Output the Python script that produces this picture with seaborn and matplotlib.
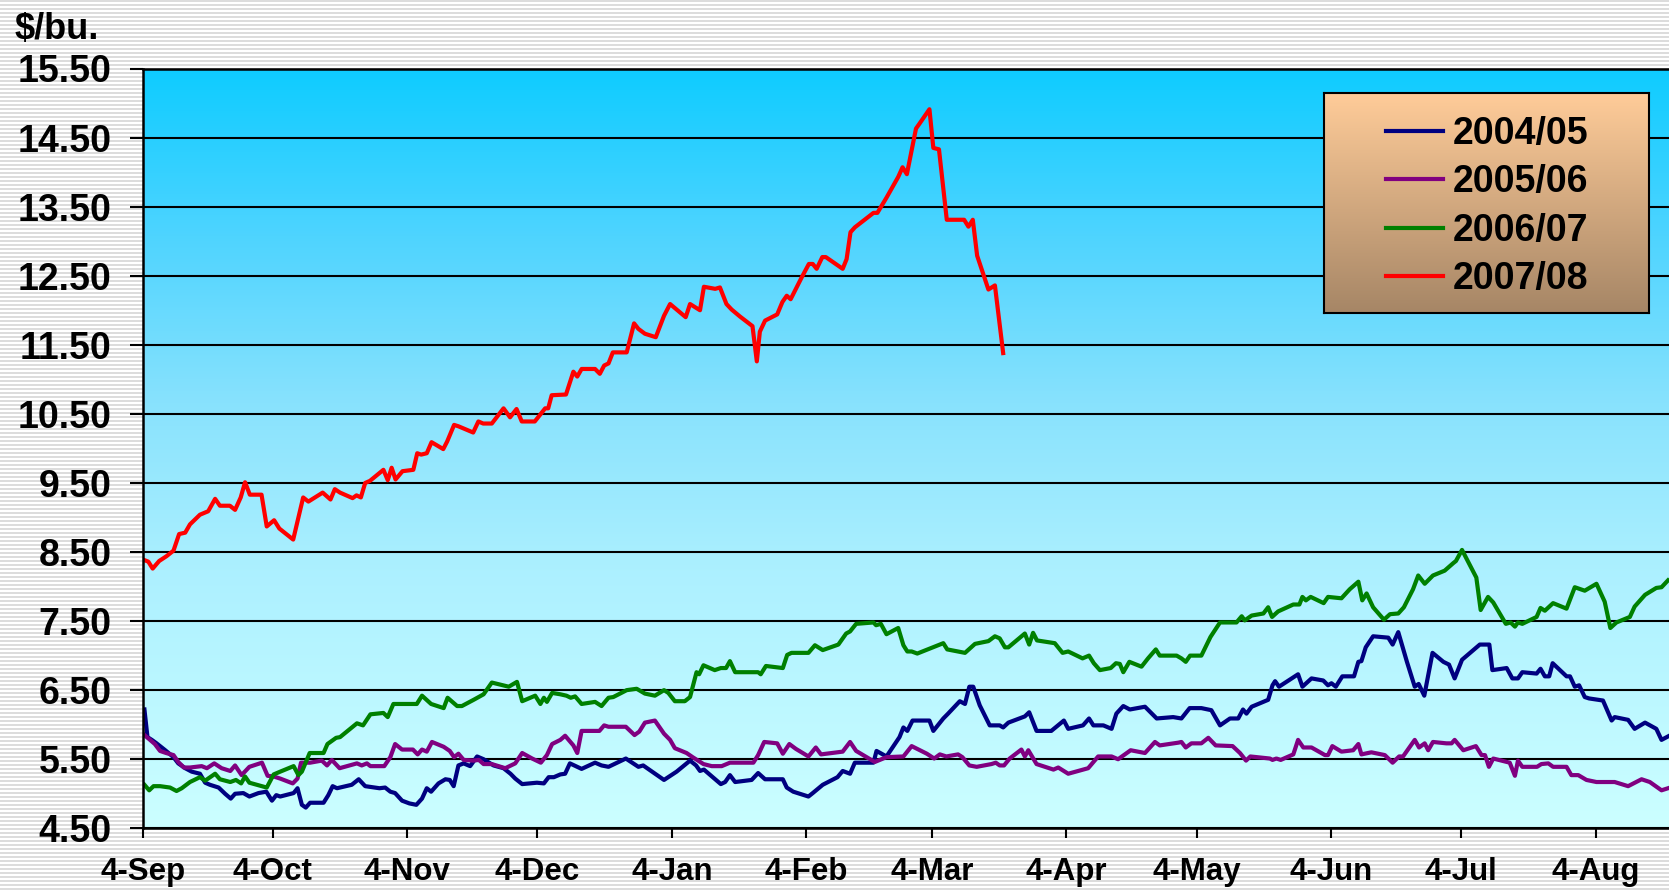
import numpy as np
import pandas as pd
import matplotlib
matplotlib.use('Agg')
import matplotlib.pyplot as plt
import matplotlib.ticker as mticker
import seaborn as sns

# x = days after 4-Sep on a common season calendar, y = $/bu.
y0405_day = [0.4, 1.1, 2.1, 3.2, 5.2, 7.1, 8.2, 9.8, 11.3, 13.2, 14.4, 15.5, 17.5, 19.0, 20.3, 21.3, 23.2, 24.6,
             26.7, 28.5, 29.8, 30.8, 31.7, 34.8, 35.7, 36.7, 37.6, 38.6, 41.7, 42.8, 43.8, 44.8, 48.2, 49.8, 51.3,
             54.6, 55.9, 57.1, 58.2, 59.8, 61.5, 63.1, 64.4, 65.5, 66.5, 68.2, 69.8, 70.8, 71.7, 72.8, 74.0, 75.5,
             77.1, 78.6, 80.9, 83.2, 84.8, 85.9, 87.5, 90.9, 92.5, 93.6, 94.8, 96.3, 97.4, 98.5, 101.2, 104.3, 105.8,
             107.4, 111.4, 114.3, 115.4, 120.2, 123.1, 126.2, 127.6, 128.5, 129.4, 133.3, 134.3, 135.4, 136.6, 140.4,
             141.9, 143.5, 147.6, 148.5, 150.0, 153.5, 154.5, 156.8, 160.2, 161.4, 163.1, 164.2, 168.5, 169.2, 171.5,
             174.5, 175.4, 176.3, 177.5, 181.4, 182.3, 184.6, 185.7, 188.4, 189.6, 190.6, 191.5, 193.0, 195.3, 197.6,
             198.4, 199.6, 203.4, 204.4, 206.1, 209.5, 212.4, 213.4, 216.8, 218.2, 219.2, 221.5, 223.4, 224.5, 226.1,
             227.6, 231.1, 233.8, 237.6, 239.5, 241.4, 244.1, 246.4, 248.4, 250.7, 252.6, 253.7, 254.5, 255.7, 259.5,
             260.5, 261.1, 262.0, 266.4, 267.4, 269.5, 272.2, 273.3, 274.1, 275.1, 276.6, 279.3, 280.3, 281.0, 282.0,
             283.7, 287.2, 288.2, 289.5, 291.5, 293.3, 294.2, 295.5, 297.4, 299.9, 301.2, 302.5, 304.2, 308.3, 310.5,
             311.2, 314.5, 315.8, 317.1, 318.1, 321.4, 322.3, 323.3, 324.3, 325.1, 328.3, 329.1, 330.2, 331.2, 332.5,
             333.5, 336.7, 338.7, 339.4, 342.5, 344.0, 346.4, 349.0, 350.2, 351.7]
y0405_price = [6.22, 5.82, 5.78, 5.73, 5.63, 5.53, 5.44, 5.37, 5.32, 5.29, 5.16, 5.13, 5.09, 5.00, 4.93, 5.00, 5.01,
               4.96, 5.01, 5.03, 4.90, 4.98, 4.96, 5.01, 5.08, 4.84, 4.80, 4.87, 4.87, 4.98, 5.11, 5.08, 5.13, 5.21,
               5.11, 5.08, 5.09, 5.03, 5.01, 4.90, 4.86, 4.84, 4.93, 5.08, 5.03, 5.15, 5.21, 5.20, 5.11, 5.41, 5.44,
               5.40, 5.54, 5.50, 5.41, 5.37, 5.29, 5.22, 5.14, 5.16, 5.15, 5.24, 5.24, 5.28, 5.29, 5.44, 5.36, 5.45,
               5.41, 5.39, 5.51, 5.39, 5.41, 5.20, 5.32, 5.48, 5.41, 5.33, 5.35, 5.14, 5.17, 5.27, 5.17, 5.20, 5.30,
               5.21, 5.21, 5.09, 5.03, 4.96, 5.01, 5.13, 5.24, 5.33, 5.29, 5.45, 5.45, 5.62, 5.54, 5.82, 5.96, 5.91,
               6.06, 6.06, 5.91, 6.09, 6.16, 6.34, 6.30, 6.55, 6.55, 6.28, 5.99, 5.99, 5.96, 6.03, 6.12, 6.18, 5.91,
               5.91, 6.06, 5.94, 5.99, 6.09, 5.99, 5.99, 5.94, 6.16, 6.27, 6.22, 6.26, 6.09, 6.11, 6.09, 6.24, 6.24,
               6.21, 5.99, 6.09, 6.09, 6.22, 6.16, 6.26, 6.36, 6.57, 6.63, 6.55, 6.73, 6.55, 6.67, 6.64, 6.57, 6.60,
               6.55, 6.70, 6.70, 6.91, 6.92, 7.12, 7.28, 7.26, 7.16, 7.34, 6.91, 6.55, 6.59, 6.42, 7.04, 6.91, 6.87,
               6.67, 6.94, 7.16, 7.16, 6.79, 6.82, 6.67, 6.67, 6.76, 6.74, 6.81, 6.70, 6.70, 6.89, 6.70, 6.70, 6.55,
               6.57, 6.40, 6.38, 6.35, 6.06, 6.11, 6.07, 5.94, 6.03, 5.94, 5.78, 5.83]

y0506_day = [0.4, 1.7, 2.8, 4.0, 5.4, 7.1, 8.2, 9.5, 10.9, 13.6, 14.8, 16.5, 18.2, 20.2, 21.3, 22.8, 24.6, 27.5,
             28.8, 30.2, 31.7, 34.6, 35.7, 36.5, 38.6, 41.3, 42.5, 43.6, 45.4, 49.4, 50.5, 51.7, 52.5, 55.7, 57.1,
             58.2, 59.8, 62.3, 63.4, 64.4, 65.5, 66.7, 69.4, 70.8, 71.8, 72.8, 74.0, 76.3, 77.5, 78.6, 80.5, 83.6,
             85.9, 87.5, 89.8, 91.8, 93.2, 94.4, 96.3, 97.4, 99.3, 100.2, 101.2, 105.3, 106.4, 107.4, 111.4, 113.4,
             114.5, 115.8, 118.1, 120.2, 121.6, 122.7, 125.4, 126.8, 129.3, 131.2, 133.5, 135.4, 140.8, 141.9, 143.3,
             146.3, 147.6, 149.1, 150.6, 153.5, 155.2, 156.4, 161.4, 163.1, 164.5, 168.8, 171.5, 175.4, 177.3, 179.2,
             180.8, 182.5, 183.8, 185.3, 188.0, 189.0, 190.6, 192.3, 195.7, 196.7, 197.6, 198.6, 199.9, 202.6, 203.4,
             204.2, 206.1, 210.0, 211.1, 213.4, 216.9, 218.0, 220.3, 223.4, 224.9, 227.8, 231.1, 233.4, 234.5, 238.8,
             239.5, 240.5, 241.8, 244.1, 245.7, 247.4, 251.3, 253.0, 254.4, 255.4, 259.9, 260.5, 261.4, 262.4, 265.3,
             266.4, 267.6, 269.5, 272.6, 273.3, 274.3, 276.4, 279.1, 280.3, 281.0, 283.3, 286.4, 288.2, 289.7, 290.6,
             293.3, 294.3, 295.6, 296.4, 297.5, 300.6, 301.8, 302.5, 304.5, 307.4, 308.7, 309.5, 310.4, 311.4, 315.2,
             316.4, 317.1, 318.1, 321.5, 322.5, 324.1, 325.2, 328.3, 329.4, 331.0, 332.9, 335.2, 339.4, 342.5, 345.6,
             347.5, 350.2, 351.7]
y0506_price = [5.85, 5.78, 5.72, 5.62, 5.59, 5.56, 5.46, 5.38, 5.38, 5.40, 5.37, 5.44, 5.37, 5.33, 5.41, 5.27, 5.39,
               5.45, 5.26, 5.25, 5.22, 5.15, 5.22, 5.45, 5.45, 5.48, 5.41, 5.49, 5.37, 5.44, 5.41, 5.44, 5.40, 5.40,
               5.53, 5.72, 5.64, 5.64, 5.57, 5.64, 5.61, 5.75, 5.68, 5.62, 5.53, 5.58, 5.49, 5.48, 5.49, 5.43, 5.43,
               5.37, 5.44, 5.59, 5.51, 5.45, 5.56, 5.72, 5.78, 5.84, 5.70, 5.59, 5.91, 5.91, 5.99, 5.97, 5.97, 5.85,
               5.90, 6.03, 6.06, 5.87, 5.78, 5.66, 5.59, 5.53, 5.43, 5.40, 5.40, 5.45, 5.45, 5.56, 5.75, 5.73, 5.58,
               5.72, 5.65, 5.54, 5.67, 5.57, 5.61, 5.75, 5.62, 5.46, 5.53, 5.54, 5.69, 5.63, 5.58, 5.51, 5.57, 5.54,
               5.57, 5.53, 5.41, 5.39, 5.43, 5.45, 5.41, 5.41, 5.51, 5.64, 5.54, 5.63, 5.43, 5.35, 5.38, 5.29, 5.35,
               5.37, 5.54, 5.54, 5.50, 5.63, 5.59, 5.75, 5.70, 5.74, 5.75, 5.67, 5.73, 5.73, 5.81, 5.70, 5.69, 5.59,
               5.48, 5.54, 5.51, 5.49, 5.51, 5.49, 5.57, 5.78, 5.67, 5.67, 5.56, 5.56, 5.69, 5.61, 5.63, 5.72, 5.57,
               5.60, 5.56, 5.45, 5.54, 5.54, 5.78, 5.67, 5.73, 5.63, 5.75, 5.73, 5.73, 5.78, 5.63, 5.69, 5.56, 5.56,
               5.39, 5.51, 5.45, 5.26, 5.48, 5.39, 5.39, 5.43, 5.44, 5.39, 5.39, 5.27, 5.27, 5.20, 5.17, 5.17, 5.11,
               5.21, 5.17, 5.05, 5.08]

y0607_day = [0.4, 1.5, 2.5, 4.0, 6.3, 7.8, 9.0, 10.9, 13.2, 14.4, 16.7, 17.8, 20.2, 21.5, 22.7, 23.6, 24.6, 28.6,
             30.2, 31.7, 34.8, 35.9, 36.7, 38.5, 41.7, 42.6, 44.6, 45.5, 49.4, 50.8, 52.5, 55.5, 56.5, 57.8, 63.2,
             64.4, 66.5, 69.4, 70.3, 72.5, 73.6, 76.3, 78.6, 80.5, 84.4, 86.3, 87.5, 90.5, 91.7, 92.5, 93.2, 94.4,
             96.3, 97.7, 98.7, 99.7, 101.2, 104.3, 105.8, 107.4, 108.5, 111.6, 113.9, 115.8, 118.1, 120.2, 121.2,
             122.7, 125.0, 126.2, 127.7, 128.3, 129.3, 131.9, 133.3, 134.5, 135.4, 136.6, 141.9, 142.5, 143.7, 147.6,
             148.6, 149.6, 153.5, 155.0, 156.8, 160.4, 162.2, 163.1, 164.5, 168.5, 169.1, 170.2, 171.5, 174.2, 175.4,
             176.3, 177.3, 178.6, 184.6, 185.5, 189.6, 191.9, 195.0, 196.5, 197.6, 198.8, 199.6, 203.4, 204.4, 205.3,
             206.2, 210.3, 212.1, 213.4, 216.7, 218.2, 219.3, 220.7, 223.2, 224.4, 225.3, 226.1, 227.5, 230.3, 231.8,
             233.6, 234.5, 238.4, 239.5, 240.5, 241.5, 244.1, 246.2, 248.4, 252.2, 253.4, 254.1, 255.7, 258.4, 259.5,
             260.4, 261.8, 265.3, 266.7, 267.4, 268.2, 269.3, 272.3, 273.3, 276.4, 278.3, 280.3, 281.2, 282.2, 283.7,
             286.2, 287.6, 289.5, 290.8, 292.9, 294.1, 295.6, 297.5, 300.2, 302.2, 302.8, 304.2, 307.5, 308.5, 310.2,
             311.4, 314.3, 315.4, 316.4, 317.1, 318.1, 321.4, 322.3, 323.3, 325.2, 328.3, 330.2, 332.5, 335.2, 337.1,
             338.4, 339.8, 342.9, 344.0, 346.4, 349.0, 350.2, 351.7]
y0607_price = [5.13, 5.05, 5.11, 5.11, 5.09, 5.04, 5.08, 5.17, 5.24, 5.19, 5.29, 5.21, 5.17, 5.20, 5.15, 5.25, 5.16,
               5.09, 5.28, 5.32, 5.40, 5.27, 5.32, 5.59, 5.59, 5.72, 5.81, 5.82, 6.02, 5.99, 6.15, 6.17, 6.11, 6.30,
               6.30, 6.42, 6.30, 6.24, 6.39, 6.27, 6.27, 6.36, 6.44, 6.61, 6.55, 6.62, 6.34, 6.42, 6.30, 6.39, 6.33,
               6.46, 6.44, 6.42, 6.39, 6.41, 6.30, 6.33, 6.27, 6.39, 6.40, 6.50, 6.52, 6.45, 6.42, 6.50, 6.46, 6.34,
               6.34, 6.40, 6.76, 6.73, 6.86, 6.79, 6.82, 6.82, 6.92, 6.76, 6.76, 6.73, 6.85, 6.82, 7.01, 7.04, 7.04,
               7.15, 7.08, 7.16, 7.32, 7.35, 7.46, 7.48, 7.44, 7.46, 7.31, 7.40, 7.15, 7.06, 7.06, 7.03, 7.18, 7.09,
               7.04, 7.17, 7.21, 7.28, 7.25, 7.12, 7.12, 7.32, 7.16, 7.33, 7.22, 7.18, 7.04, 7.06, 6.96, 7.00, 6.89,
               6.79, 6.82, 6.89, 6.88, 6.76, 6.91, 6.84, 6.96, 7.09, 7.00, 7.00, 6.96, 6.91, 7.00, 7.00, 7.27, 7.48,
               7.48, 7.57, 7.51, 7.58, 7.61, 7.70, 7.56, 7.64, 7.74, 7.74, 7.85, 7.80, 7.85, 7.76, 7.85, 7.83, 7.96,
               8.07, 7.80, 7.90, 7.70, 7.52, 7.60, 7.61, 7.70, 7.96, 8.16, 8.04, 8.16, 8.23, 8.34, 8.37, 8.53, 8.13,
               7.66, 7.85, 7.77, 7.46, 7.48, 7.42, 7.48, 7.46, 7.56, 7.69, 7.65, 7.76, 7.68, 7.99, 7.94, 8.04, 7.78,
               7.40, 7.48, 7.56, 7.71, 7.88, 7.98, 7.99, 8.09]

y0708_day = [0.1, 1.3, 2.3, 3.8, 5.5, 7.1, 8.4, 9.8, 10.9, 13.2, 15.1, 16.7, 17.8, 20.1, 21.3, 22.6, 23.6, 24.7,
             27.4, 28.6, 30.3, 31.5, 34.7, 37.0, 38.2, 41.5, 43.3, 44.3, 45.5, 48.4, 49.3, 50.3, 51.3, 52.4, 55.5,
             56.5, 57.4, 58.3, 59.9, 62.4, 63.3, 64.2, 65.5, 66.6, 69.3, 70.2, 71.8, 72.8, 76.2, 77.4, 78.5, 80.5,
             83.2, 84.7, 86.2, 87.4, 90.4, 92.8, 93.5, 94.3, 97.6, 99.3, 100.2, 101.2, 104.3, 105.4, 106.4, 107.4,
             108.4, 111.6, 113.3, 114.3, 115.8, 118.3, 120.2, 121.6, 125.2, 126.2, 128.5, 129.4, 132.0, 133.1, 134.6,
             135.8, 137.7, 140.6, 141.6, 142.3, 143.5, 146.3, 147.5, 148.5, 149.4, 151.9, 153.6, 154.5, 155.4, 156.7,
             157.5, 161.4, 162.3, 163.2, 164.2, 168.5, 169.4, 171.5, 174.2, 175.2, 176.2, 178.3, 179.2, 181.4, 182.3,
             183.6, 185.4, 189.4, 190.4, 191.4, 192.4, 195.0, 196.5, 198.4]
y0708_price = [8.39, 8.36, 8.26, 8.37, 8.44, 8.52, 8.76, 8.78, 8.90, 9.04, 9.09, 9.27, 9.17, 9.17, 9.11, 9.29, 9.51,
               9.33, 9.33, 8.87, 8.96, 8.84, 8.68, 9.29, 9.23, 9.36, 9.26, 9.41, 9.36, 9.28, 9.32, 9.29, 9.50, 9.53,
               9.69, 9.54, 9.72, 9.55, 9.67, 9.69, 9.93, 9.91, 9.93, 10.09, 9.99, 10.10, 10.34, 10.32, 10.23, 10.39,
               10.36, 10.36, 10.58, 10.45, 10.57, 10.39, 10.39, 10.58, 10.58, 10.77, 10.78, 11.11, 11.04, 11.15, 11.15,
               11.08, 11.20, 11.23, 11.39, 11.39, 11.81, 11.73, 11.66, 11.61, 11.92, 12.09, 11.90, 12.09, 12.00, 12.34,
               12.31, 12.33, 12.09, 12.01, 11.91, 11.77, 11.26, 11.69, 11.85, 11.94, 12.12, 12.21, 12.16, 12.47, 12.67,
               12.67, 12.60, 12.77, 12.77, 12.60, 12.74, 13.13, 13.20, 13.41, 13.41, 13.63, 13.93, 14.07, 13.97, 14.63,
               14.71, 14.91, 14.35, 14.33, 13.31, 13.31, 13.21, 13.31, 12.79, 12.30, 12.36, 11.38]

seasons = ['2004/05', '2005/06', '2006/07', '2007/08']
colors = {'2004/05': '#000080', '2005/06': '#800080', '2006/07': '#008000', '2007/08': '#FF0000'}

start = pd.Timestamp('2007-09-04')
frames = []
for name, days, price in zip(seasons,
                             [y0405_day, y0506_day, y0607_day, y0708_day],
                             [y0405_price, y0506_price, y0607_price, y0708_price]):
    frames.append(pd.DataFrame({'date': start + pd.to_timedelta(days, unit='D'),
                                'price': price, 'season': name}))
df = pd.concat(frames, ignore_index=True)

plt.rcParams['font.family'] = ['Liberation Sans', 'DejaVu Sans']
plt.rcParams['font.weight'] = 'bold'

W, H = 1669, 890
LW = 3.0
fig = plt.figure(figsize=(W / 100, H / 100), dpi=100)
fig.patch.set_facecolor('white')

# striped backdrop
stripes = np.ones((H, 1))
stripes[np.arange(H) % 4 < 2] = 0.86
bg = fig.add_axes([0, 0, 1, 1], zorder=-10)
bg.imshow(stripes, cmap='gray', vmin=0, vmax=1, aspect='auto', interpolation='nearest')
bg.axis('off')

x0, ytop, ybot = 142.7, 68.5, 828.3
ax = fig.add_axes([x0 / W, (H - ybot) / H, 1 - x0 / W, (ybot - ytop) / H])
ax.set_facecolor('none')

sns.lineplot(data=df, x='date', y='price', hue='season', hue_order=seasons, palette=colors,
             estimator=None, sort=False, lw=LW, ax=ax)
for ln in ax.get_lines():
    ln.set_solid_joinstyle('round')

# vertical cyan gradient in the plot area
stops = np.array([[0.0, 14, 204, 255],
                  [0.22, 78, 212, 255],
                  [0.44, 136, 226, 253],
                  [0.66, 172, 240, 255],
                  [1.0, 204, 255, 255]])
t = np.linspace(0, 1, 400)
grad = np.stack([np.interp(t, stops[:, 0], stops[:, i]) for i in (1, 2, 3)], axis=1) / 255
ax.imshow(grad[:, None, :], extent=[0, 1, 0, 1], transform=ax.transAxes, aspect='auto',
          interpolation='bilinear', zorder=0)

ax.set_ylim(4.5, 15.5)
ax.set_yticks(np.arange(4.5, 15.51, 1.0))
ax.yaxis.set_major_formatter(mticker.FormatStrFormatter('%.2f'))
tick_dates = pd.date_range(start, periods=12, freq=pd.DateOffset(months=1))
ax.set_xticks(tick_dates)
ax.set_xticklabels([f'{d.day}-{d:%b}' for d in tick_dates])
ax.set_xlim(start, start + pd.Timedelta(days=(W - x0) / 4.337))
ax.set_xlabel('')
ax.set_ylabel('')

ax.set_axisbelow(True)
ax.grid(axis='y', color='black', lw=1.5)
ax.grid(axis='x', visible=False)
ax.tick_params(axis='y', direction='out', length=9.5, width=1.5, pad=13, labelsize=27)
ax.tick_params(axis='x', direction='out', length=7, width=1.5, pad=14, labelsize=22.5)
ax.spines['right'].set_visible(False)
for side in ('left', 'bottom', 'top'):
    ax.spines[side].set_linewidth(1.8)
    ax.spines[side].set_color('black')

fig.text(15 / W, 1 - 38.5 / H, r'\$/bu.', fontsize=26, fontweight='bold', ha='left', va='baseline')

# legend box with peach-to-brown gradient
handles, labels = ax.get_legend_handles_labels()
if ax.get_legend() is not None:
    ax.get_legend().remove()
lx0, lx1, ly0, ly1 = 1324, 1649, 93, 313
lax = fig.add_axes([lx0 / W, 1 - ly1 / H, (lx1 - lx0) / W, (ly1 - ly0) / H])
lt = np.linspace(0, 1, 200)
top_c = np.array([255, 204, 153]) / 255
bot_c = np.array([166, 134, 102]) / 255
lgrad = top_c[None, :] * (1 - lt[:, None]) + bot_c[None, :] * lt[:, None]
lax.imshow(lgrad[:, None, :], aspect='auto', extent=[0, 1, 0, 1], interpolation='bilinear')
lax.set_xticks([])
lax.set_yticks([])
for s in lax.spines.values():
    s.set_linewidth(1.5)
    s.set_color('black')
leg = lax.legend(handles, labels, loc='center', bbox_to_anchor=(0.503, 0.484), frameon=False,
                 prop={'size': 27, 'weight': 'bold'}, handlelength=1.52, handletextpad=0.27,
                 labelspacing=0.33, borderpad=0)
for h in leg.legend_handles:
    h.set_linewidth(LW)

fig.savefig('out.png', dpi=100)
